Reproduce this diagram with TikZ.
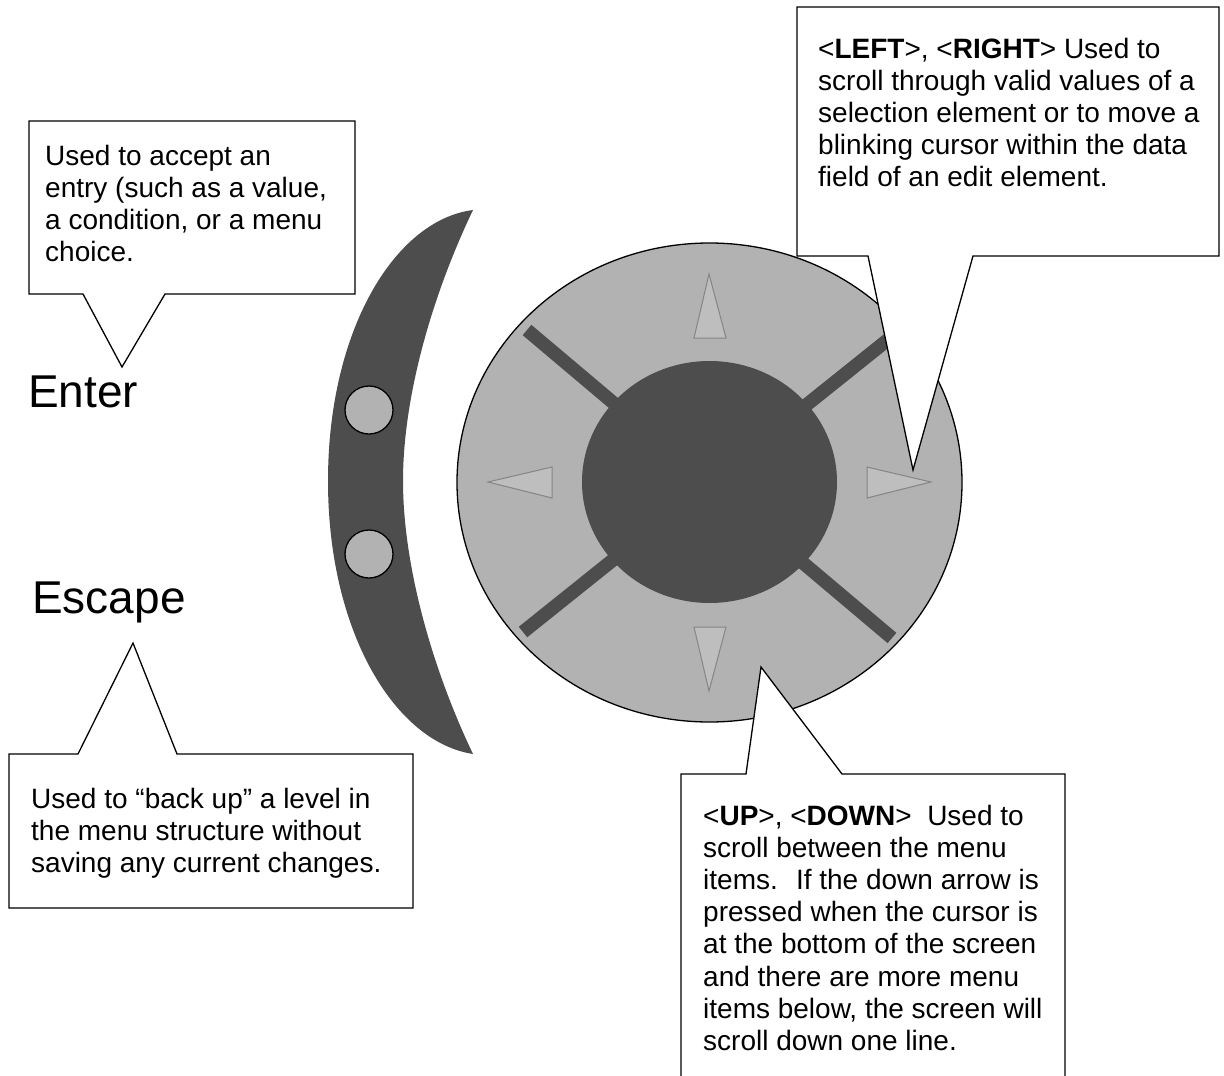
\documentclass[tikz,border=0pt]{standalone}
\usepackage{fontspec}
\setmainfont{Liberation Sans}
\definecolor{dark}{HTML}{4D4D4D}
\definecolor{pad}{HTML}{B2B2B2}
\definecolor{tri}{HTML}{BEBEBE}
\definecolor{trio}{HTML}{858585}
\begin{document}
\begin{tikzpicture}[x=1pt,y=-1pt,
  callout/.style={draw=black, line width=1.3pt, fill=white, line join=miter},
  ctext/.style={anchor=base west, inner sep=0pt, font=\fontsize{28}{32.2}\selectfont},
  biglabel/.style={anchor=base west, inner sep=0pt, font=\fontsize{46}{50}\selectfont},
  arrowtri/.style={fill=tri, draw=trio, line width=1pt, line join=miter},
  spoke/.style={draw=dark, line width=13.5pt}]
\useasboundingbox (0,0) rectangle (1224,1076);
\clip (0,0) rectangle (1224,1076);
% crescent
\fill[dark] (473,210) .. controls (395,220) and (328,330) .. (328,481)
  .. controls (328,632) and (395,742) .. (473,754)
  .. controls (430,664) and (403,562) .. (403,481)
  .. controls (403,400) and (430,300) .. (473,210) -- cycle;
% buttons
\draw[fill=pad, line width=1.3pt] (369,410) circle[radius=24pt];
\draw[fill=pad, line width=1.3pt] (369,554) circle[radius=24pt];
% pad
\draw[fill=pad, line width=1.3pt] (709.5,482.5) ellipse[x radius=252.5pt, y radius=239.5pt];
\draw[spoke] (527,330) -- (892,638);
\draw[spoke] (895,334) -- (523,632);
\fill[dark] (709.5,482) ellipse[x radius=127.5pt, y radius=121pt];
% arrows
\filldraw[arrowtri] (694,338) -- (709,274) -- (726,338) -- cycle;
\filldraw[arrowtri] (694,627) -- (726,627) -- (709,691) -- cycle;
\filldraw[arrowtri] (552,467) -- (488,482) -- (552,498) -- cycle;
\filldraw[arrowtri] (867,467) -- (931,482) -- (867,498) -- cycle;
% callouts
\filldraw[callout] (797,7) -- (1219,7) -- (1219,256) -- (973,256) -- (913,470) -- (868,256) -- (797,256) -- cycle;
\filldraw[callout] (29,121) -- (355,121) -- (355,294) -- (165,294) -- (122,367) -- (83,294) -- (29,294) -- cycle;
\filldraw[callout] (9,754) -- (78,754) -- (133,643) -- (177,754) -- (413,754) -- (413,908) -- (9,908) -- cycle;
\filldraw[callout] (681,774) -- (746,774) -- (761,667) -- (842,774) -- (1065,774) -- (1065,1100) -- (681,1100) -- cycle;
% texts
\node[ctext] (lr) at (818,58) {\begin{tabular}[t]{@{}l@{}}
<\textbf{LEFT}>, <\textbf{RIGHT}> Used to\\
scroll through valid values of a\\
selection element or to move a\\
blinking cursor within the data\\
field of an edit element.\end{tabular}};
\node[ctext] (ent) at (45,165) {\begin{tabular}[t]{@{}l@{}}
Used to accept an\\
entry (such as a value,\\
a condition, or a menu\\
choice.\end{tabular}};
\node[ctext] (esc) at (31,808) {\begin{tabular}[t]{@{}l@{}}
Used to “back up” a level in\\
the menu structure without\\
saving any current changes.\end{tabular}};
\node[ctext] (ud) at (703,825) {\begin{tabular}[t]{@{}l@{}}
<\textbf{UP}>, <\textbf{DOWN}>~ Used to\\
scroll between the menu\\
items.~ If the down arrow is\\
pressed when the cursor is\\
at the bottom of the screen\\
and there are more menu\\
items below, the screen will\\
scroll down one line.\end{tabular}};
\node[biglabel] (enterlbl) at (28,407) {Enter};
\node[biglabel] (escapelbl) at (32,613) {Escape};
\end{tikzpicture}
\end{document}
